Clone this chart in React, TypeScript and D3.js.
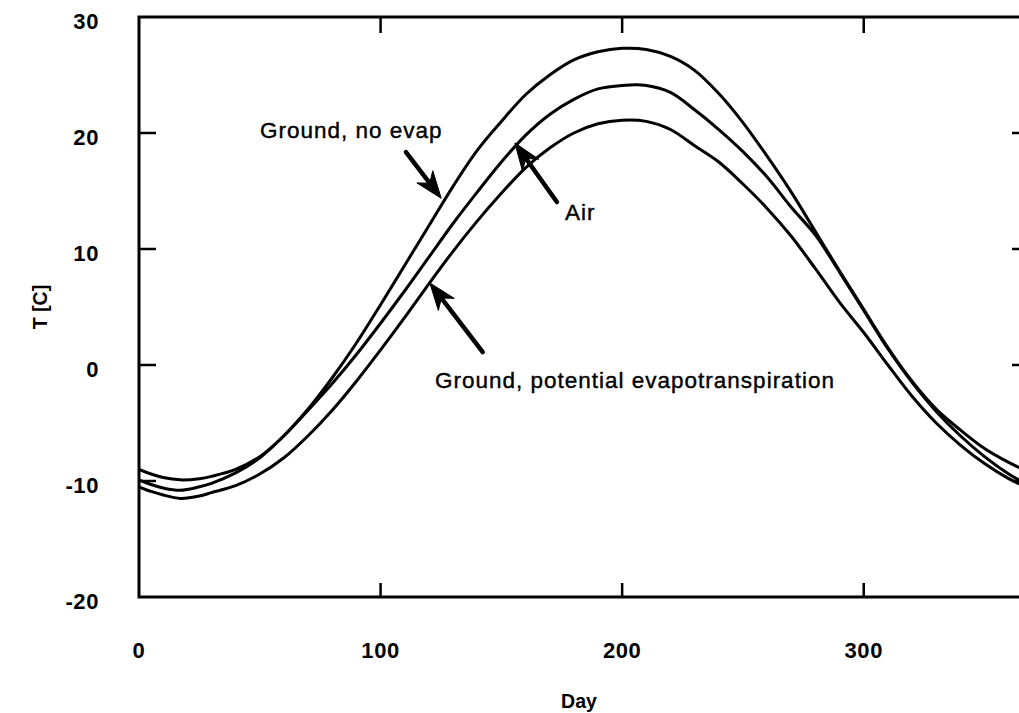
import React from "react";
import * as d3 from "d3";

// ---- Data ----
const days = [0, 5, 10, 17, 25, 30, 40, 50, 60, 70, 80, 90, 100, 110, 120, 130, 140, 150, 160, 170, 180, 190, 200, 210, 220, 230, 240, 250, 260, 270, 280, 290, 300, 310, 320, 330, 340, 350, 360, 365];

const groundNoEvap = [-9.0, -9.4, -9.7, -9.9, -9.8, -9.6, -9.0, -7.9, -6.1, -3.8, -1.1, 1.9, 5.2, 8.6, 12.0, 15.4, 18.5, 21.0, 23.3, 25.0, 26.3, 27.0, 27.3, 27.2, 26.6, 25.4, 23.4, 20.9, 18.0, 14.9, 11.5, 8.1, 4.8, 1.5, -1.4, -3.8, -5.6, -7.2, -8.4, -8.9];

const air = [-9.9, -10.3, -10.6, -10.8, -10.5, -10.2, -9.3, -8.0, -6.1, -3.9, -1.6, 0.9, 3.6, 6.4, 9.3, 12.2, 14.9, 17.5, 19.8, 21.6, 22.9, 23.8, 24.1, 24.1, 23.5, 22.0, 20.3, 18.4, 16.2, 13.6, 11.2, 8.0, 4.7, 1.4, -1.5, -4.0, -6.1, -7.9, -9.4, -10.0];

const groundPET = [-10.5, -10.9, -11.2, -11.5, -11.3, -11.0, -10.4, -9.4, -8.0, -6.1, -3.9, -1.4, 1.3, 4.1, 7.0, 9.8, 12.4, 14.8, 17.0, 18.7, 20.0, 20.8, 21.1, 21.0, 20.3, 18.9, 17.5, 15.6, 13.5, 11.1, 8.3, 5.4, 2.8, 0.0, -2.7, -5.0, -6.9, -8.5, -9.8, -10.3];

const xTicks = [0, 100, 200, 300];
const yTicks = [-20, -10, 0, 10, 20, 30];
const innerYTicks = [-10, 0, 10, 20];
const innerXTicks = [100, 200, 300];

// annotations: label text, label anchor (day, T), arrow tail (day, T), arrow head (day, T)
const annLabels = ["Ground, no evap", "Air", "Ground, potential evapotranspiration"];
const annLabelPos = [[50.1, 19.57], [176.3, 12.5], [122.5, -2.0]];
const annTail = [[110.5, 18.36], [173.0, 14.05], [142.3, 1.12]];
const annHead = [[125.1, 14.37], [155.6, 19.14], [120.4, 7.07]];

const W = 1019;
const H = 713;

export default function App() {
  const x = d3.scaleLinear().domain([0, 368]).range([139, 1028]);
  const y = d3.scaleLinear().domain([-20, 30]).range([597, 17]);

  const series = [groundNoEvap, air, groundPET];
  const line = d3
    .line<number>()
    .x((_, i) => x(days[i]))
    .y((d) => y(d))
    .curve(d3.curveCatmullRom.alpha(0.5));

  const font = "'Liberation Sans', Arial, Helvetica, sans-serif";

  const arrowParts = annHead.map((h, i) => {
    const t = annTail[i];
    const hx = x(h[0]), hy = y(h[1]);
    const tx = x(t[0]), ty = y(t[1]);
    const dx = hx - tx, dy = hy - ty;
    const len = Math.sqrt(dx * dx + dy * dy);
    const ux = dx / len, uy = dy / len;
    const nx = -uy, ny = ux;
    const L = 27, Wd = 10, notch = 8;
    const b1 = [hx - ux * L + nx * Wd, hy - uy * L + ny * Wd];
    const b2 = [hx - ux * L - nx * Wd, hy - uy * L - ny * Wd];
    const nt = [hx - ux * (L - notch), hy - uy * (L - notch)];
    const head = `M${hx},${hy}L${b1[0]},${b1[1]}L${nt[0]},${nt[1]}L${b2[0]},${b2[1]}Z`;
    return { shaft: [tx, ty, nt[0], nt[1]], head };
  });

  return (
    <svg
      width={W}
      height={H}
      style={{ position: "absolute", left: 0, top: 0, background: "#fff" }}
    >
      <rect x={0} y={0} width={W} height={H} fill="#fff" />
      <defs>
        <clipPath id="plotclip">
          <rect x={x(0)} y={y(30)} width={x(368) - x(0)} height={y(-20) - y(30)} />
        </clipPath>
      </defs>
      {/* frame */}
      <rect
        x={x(0)}
        y={y(30)}
        width={x(368) - x(0)}
        height={y(-20) - y(30)}
        fill="none"
        stroke="#000"
        strokeWidth={3}
      />
      {/* inward ticks */}
      {innerYTicks.map((v) => (
        <g key={"yt" + v}>
          <line x1={x(0)} x2={x(0) + 17} y1={y(v)} y2={y(v)} stroke="#000" strokeWidth={2.5} />
          <line x1={x(368)} x2={x(368) - 16} y1={y(v)} y2={y(v)} stroke="#000" strokeWidth={2.5} />
        </g>
      ))}
      {innerXTicks.map((v) => (
        <g key={"xt" + v}>
          <line x1={x(v)} x2={x(v)} y1={y(-20)} y2={y(-20) - 14} stroke="#000" strokeWidth={2.5} />
          <line x1={x(v)} x2={x(v)} y1={y(30)} y2={y(30) + 16} stroke="#000" strokeWidth={2.5} />
        </g>
      ))}
      {/* tick labels */}
      {yTicks.map((v) => (
        <text
          key={"yl" + v}
          x={99}
          y={y(v) + 12}
          textAnchor="end"
          fontFamily={font}
          fontSize={22}
          fontWeight="bold"
          letterSpacing={0.6}
        >
          {v}
        </text>
      ))}
      {xTicks.map((v) => (
        <text
          key={"xl" + v}
          x={x(v)}
          y={658}
          textAnchor="middle"
          fontFamily={font}
          fontSize={22}
          fontWeight="bold"
          letterSpacing={0.6}
        >
          {v}
        </text>
      ))}
      {/* axis titles */}
      <text x={579} y={708} textAnchor="middle" fontFamily={font} fontSize={19.5} fontWeight="bold">
        Day
      </text>
      <text
        transform={`translate(47,307) rotate(-90)`}
        textAnchor="middle"
        fontFamily={font}
        fontSize={19.5}
        fontWeight="bold"
      >
        T [C]
      </text>
      {/* curves */}
      <g clipPath="url(#plotclip)">
        {series.map((s, i) => (
          <path key={"s" + i} d={line(s) || ""} fill="none" stroke="#000" strokeWidth={3} strokeLinejoin="round" />
        ))}
      </g>
      {/* annotations */}
      {arrowParts.map((a, i) => (
        <g key={"a" + i}>
          <line
            x1={a.shaft[0]}
            y1={a.shaft[1]}
            x2={a.shaft[2]}
            y2={a.shaft[3]}
            stroke="#000"
            strokeWidth={4.5}
            strokeLinecap="round"
          />
          <path d={a.head} fill="#000" stroke="#000" strokeWidth={1} strokeLinejoin="round" />
        </g>
      ))}
      {annLabels.map((t, i) => (
        <text
          key={"l" + i}
          x={x(annLabelPos[i][0])}
          y={y(annLabelPos[i][1])}
          fontFamily={font}
          fontSize={22.5}
          letterSpacing={1}
          stroke="#000"
          strokeWidth={0.4}
        >
          {t}
        </text>
      ))}
    </svg>
  );
}
